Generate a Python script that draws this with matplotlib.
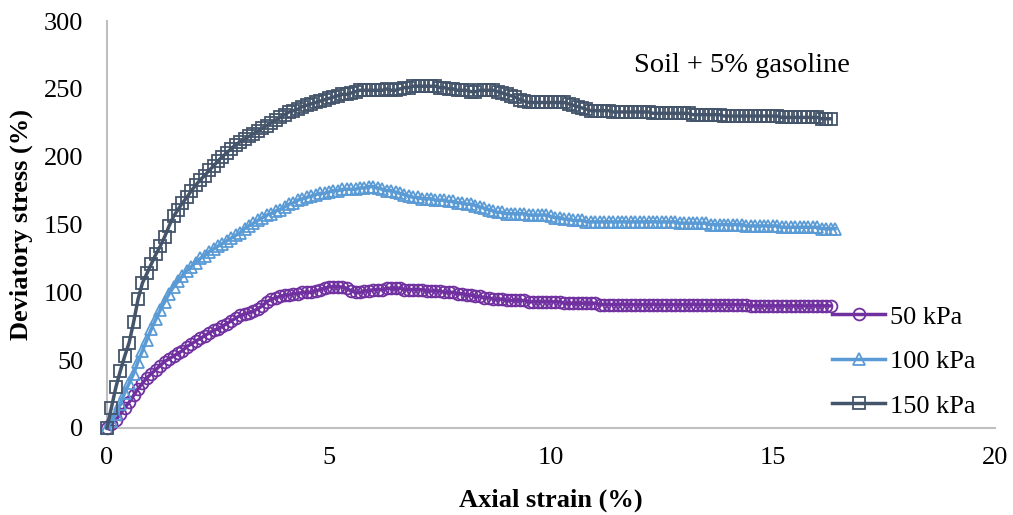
import matplotlib
matplotlib.use("Agg")
import matplotlib.pyplot as plt

strain = [0.0, 0.1, 0.2, 0.3, 0.4, 0.5, 0.6, 0.7, 0.8, 0.9,
          1.0, 1.1, 1.2, 1.3, 1.4, 1.5, 1.6, 1.7, 1.8, 1.9,
          2.0, 2.1, 2.2, 2.3, 2.4, 2.5, 2.6, 2.7, 2.8, 2.9,
          3.0, 3.1, 3.2, 3.3, 3.4, 3.5, 3.6, 3.7, 3.8, 3.9,
          4.0, 4.1, 4.2, 4.3, 4.4, 4.5, 4.6, 4.7, 4.8, 4.9,
          5.0, 5.1, 5.2, 5.3, 5.4, 5.5, 5.6, 5.7, 5.8, 5.9,
          6.0, 6.1, 6.2, 6.3, 6.4, 6.5, 6.6, 6.7, 6.8, 6.9,
          7.0, 7.1, 7.2, 7.3, 7.4, 7.5, 7.6, 7.7, 7.8, 7.9,
          8.0, 8.1, 8.2, 8.3, 8.4, 8.5, 8.6, 8.7, 8.8, 8.9,
          9.0, 9.1, 9.2, 9.3, 9.4, 9.5, 9.6, 9.7, 9.8, 9.9,
          10.0, 10.1, 10.2, 10.3, 10.4, 10.5, 10.6, 10.7, 10.8, 10.9,
          11.0, 11.1, 11.2, 11.3, 11.4, 11.5, 11.6, 11.7, 11.8, 11.9,
          12.0, 12.1, 12.2, 12.3, 12.4, 12.5, 12.6, 12.7, 12.8, 12.9,
          13.0, 13.1, 13.2, 13.3, 13.4, 13.5, 13.6, 13.7, 13.8, 13.9,
          14.0, 14.1, 14.2, 14.3, 14.4, 14.5, 14.6, 14.7, 14.8, 14.9,
          15.0, 15.1, 15.2, 15.3, 15.4, 15.5, 15.6, 15.7, 15.8, 15.9,
          16.0, 16.1, 16.2, 16.3, 16.4]

stress_50 = [0, 3, 6, 10, 15, 19, 24, 29, 33, 37,
             40, 43, 46, 49, 51, 53, 55, 57, 60, 62,
             64, 66, 68, 70, 72, 73, 75, 77, 79, 81,
             83, 84, 85, 86, 88, 90, 93, 95, 96, 97,
             98, 98, 99, 99, 100, 100, 100, 101, 102, 103,
             104, 104, 104, 104, 103, 101, 100, 100, 101, 101,
             102, 102, 102, 103, 103, 103, 103, 102, 102, 102,
             102, 102, 101, 101, 101, 101, 100, 100, 100, 99,
             99, 98, 98, 97, 97, 96, 96, 95, 95, 95,
             94, 94, 94, 94, 94, 93, 93, 93, 93, 93,
             93, 93, 93, 92, 92, 92, 92, 92, 92, 92,
             92, 91, 91, 91, 91, 91, 91, 91, 91, 91,
             91, 91, 91, 91, 91, 91, 91, 91, 91, 91,
             91, 91, 91, 91, 91, 91, 91, 91, 91, 91,
             91, 91, 91, 91, 91, 90, 90, 90, 90, 90,
             90, 90, 90, 90, 90, 90, 90, 90, 90, 90,
             90, 90, 90, 90]

stress_100 = [0, 5, 10, 18, 26, 33, 40, 49, 57, 65,
              73, 80, 87, 93, 99, 104, 108, 112, 116, 119,
              122, 125, 127, 130, 132, 134, 136, 138, 140, 142,
              144, 147, 149, 151, 153, 155, 157, 158, 160, 161,
              163, 165, 166, 168, 169, 170, 171, 172, 173, 173,
              174, 175, 175, 176, 176, 176, 176, 177, 177, 178,
              178, 177, 176, 175, 175, 174, 173, 172, 171, 170,
              170, 169, 169, 169, 168, 168, 168, 167, 167, 166,
              166, 165, 165, 164, 163, 162, 161, 160, 159, 159,
              158, 158, 158, 158, 158, 157, 157, 157, 157, 157,
              156, 155, 155, 154, 154, 153, 153, 153, 152, 152,
              152, 152, 152, 152, 152, 152, 152, 152, 152, 152,
              152, 152, 152, 152, 152, 152, 152, 152, 152, 151,
              151, 151, 151, 151, 151, 151, 150, 150, 150, 150,
              150, 150, 150, 150, 149, 149, 149, 149, 149, 149,
              149, 149, 148, 148, 148, 148, 148, 148, 148, 148,
              148, 147, 147, 147, 147]

stress_150 = [0, 15, 30, 42, 53, 63, 78, 95, 107, 114,
              121, 128, 134, 141, 149, 156, 161, 166, 170, 175,
              179, 183, 186, 190, 193, 197, 200, 203, 206, 209,
              211, 213, 215, 217, 219, 221, 223, 225, 227, 229,
              231, 233, 234, 235, 237, 238, 239, 240, 241, 242,
              243, 244, 245, 246, 246, 247, 248, 249, 249, 249,
              249, 249, 249, 250, 249, 249, 250, 251, 251, 252,
              252, 252, 252, 252, 252, 251, 251, 250, 250, 249,
              249, 249, 248, 248, 249, 249, 249, 249, 248, 247,
              246, 245, 244, 242, 241, 240, 240, 240, 240, 240,
              240, 240, 240, 240, 239, 238, 237, 236, 235, 234,
              234, 234, 234, 234, 233, 233, 233, 233, 233, 233,
              233, 233, 233, 232, 232, 232, 232, 232, 232, 232,
              232, 232, 231, 231, 231, 231, 231, 231, 231, 230,
              230, 230, 230, 230, 230, 230, 230, 230, 230, 230,
              230, 230, 229, 229, 229, 229, 229, 229, 229, 229,
              229, 228, 228, 228]

labels = ["50 kPa", "100 kPa", "150 kPa"]
series = [stress_50, stress_100, stress_150]
colors = ["#7030A0", "#5B9BD5", "#44546A"]
markers = ["o", "^", "s"]

plt.rcParams['font.family'] = ['Liberation Serif', 'DejaVu Serif']

fig = plt.figure(figsize=(10.13, 5.15), dpi=100)
ax = fig.add_axes([0.1056, 0.169, 0.8765, 0.790])

for y, lab, c, m in zip(series, labels, colors, markers):
    ax.plot(strain[:len(y)], y, color=c, lw=2.5, marker=m, markersize=8.5,
            markerfacecolor='none', markeredgecolor=c, markeredgewidth=1.3,
            label=lab, clip_on=False)

ax.set_xlim(0, 20)
ax.set_ylim(0, 300)
ax.set_xticks([0, 5, 10, 15, 20])
ax.set_yticks([0, 50, 100, 150, 200, 250, 300])
ax.tick_params(length=0, labelsize=19)
ax.tick_params(axis='x', pad=14)
ax.tick_params(axis='y', pad=17)
for s in ['top', 'right']:
    ax.spines[s].set_visible(False)
for s in ['left', 'bottom']:
    ax.spines[s].set_color('#BFBFBF')
    ax.spines[s].set_linewidth(1.5)
    ax.spines[s].set_zorder(0.5)

ax.set_xlabel("Axial strain (%)", fontsize=19, fontweight='bold', labelpad=14)
ax.set_ylabel("Deviatory stress (%)", fontsize=19, fontweight='bold', labelpad=8)

ax.text(14.3, 267, "Soil + 5% gasoline", fontsize=20.5, ha='center', va='center')

leg = ax.legend(loc='upper left', bbox_to_anchor=(0.805, 0.328), frameon=False,
                fontsize=19, handlelength=2.0, labelspacing=0.8, handletextpad=0.2,
                borderaxespad=0.0)

fig.savefig("out.png", dpi=100)
